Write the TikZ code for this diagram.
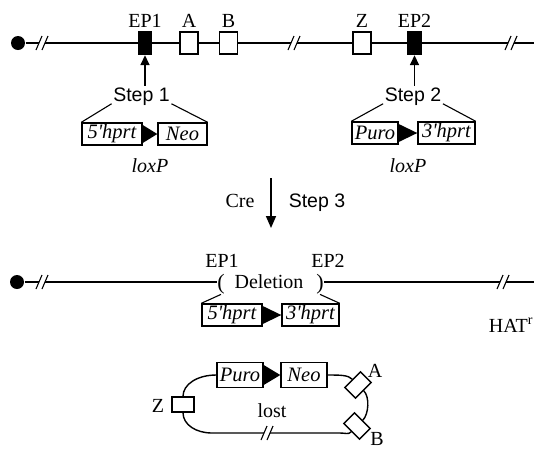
\documentclass[tikz,border=0pt]{standalone}
\usepackage{fontspec}
\setmainfont{Liberation Serif}
\newfontfamily\sansf{Liberation Sans}
\usetikzlibrary{arrows.meta}
\begin{document}
\begin{tikzpicture}[x=1pt,y=-1pt,line width=1.4pt,
  lbl/.style={font=\fontsize{20}{22}\selectfont, inner sep=0pt, anchor=base},
  ilbl/.style={font=\itshape\fontsize{20}{22}\selectfont, inner sep=0pt, anchor=base},
  steplbl/.style={font=\sansf\fontsize{19.5}{22}\selectfont, inner sep=1pt, anchor=base},
  gbox/.style={draw, fill=white, minimum width=#1, minimum height=22pt, inner sep=0pt, font=\itshape\fontsize{20.5}{22}\selectfont},
  gene/.style={draw, fill=white, minimum width=18pt, minimum height=22pt, inner sep=0pt},
  epbox/.style={draw, fill=black, minimum width=12pt, minimum height=23pt, inner sep=0pt},
  lgene/.style={draw, fill=white, minimum width=15pt, minimum height=22pt, inner sep=0pt},
  dotn/.style={circle, fill=black, inner sep=0pt, minimum size=14pt},
  thinl/.style={line width=1.1pt},
  arr/.style={-{Triangle[length=10pt,width=9pt]}, line width=1.6pt},
  arrbig/.style={-{Triangle[length=12pt,width=10pt]}, line width=1.6pt},
  brk/.pic={\fill[white] (-6,7) -- (0,-7) -- (6,-7) -- (0,7) -- cycle;
            \draw[line width=1.1pt] (-6,7) -- (0,-7) (0,7) -- (6,-7);}
]
\fill[white] (0,0) rectangle (534,448);
\useasboundingbox (0,0) rectangle (534,448);

% ---------- top chromosome ----------
\node[dotn] (d1) at (18,43) {};
\coordinate (e1) at (534,43);
\draw (d1) -- (e1);
\pic at (42,43) {brk};
\pic at (294,43) {brk};
\pic at (511,43) {brk};
\node[epbox] (ep1) at (145,43) {};
\node[gene] (ga) at (189,43) {};
\node[gene] (gb) at (228.5,43) {};
\node[gene] (gz) at (362,43) {};
\node[epbox, minimum width=13pt] (ep2) at (414.5,43) {};
\node[lbl] (tep1) at (145,27) {EP1};
\node[lbl] (ta) at (189,27) {A};
\node[lbl] (tb) at (228.5,27) {B};
\node[lbl] (tz) at (362,27) {Z};
\node[lbl] (tep2) at (414.5,27) {EP2};

% ---------- step 1 ----------
\node[steplbl] (s1) at (141.5,101) {Step 1};
\draw[arr] (ep1.south |- s1.north) -- (ep1.south);
\node[gbox=60pt] (h5a) at (112,134) {5\textquotesingle hprt};
\node[gbox=49pt] (neoa) at (182.5,134) {Neo};
\fill ([yshift=9pt]h5a.east) -- ([yshift=-9pt]h5a.east) -- (neoa.west) -- cycle;
\draw[thinl] ([yshift=3pt]s1.south west) -- (h5a.north west);
\draw[thinl] ([yshift=3pt]s1.south east) -- (neoa.north east);
\node[ilbl] (lx1) at (150,172) {loxP};

% ---------- step 2 ----------
\node[steplbl] (s2) at (413,101) {Step 2};
\draw[arr] (ep2.south |- s2.north) -- (ep2.south);
\node[gbox=46pt] (puroa) at (375,133) {Puro};
\node[gbox=57pt] (h3a) at (446.5,133) {3\textquotesingle hprt};
\fill ([yshift=9pt]puroa.east) -- ([yshift=-9pt]puroa.east) -- (h3a.west) -- cycle;
\draw[thinl] ([yshift=3pt]s2.south west) -- (puroa.north west);
\draw[thinl] ([yshift=3pt]s2.south east) -- (h3a.north east);
\node[ilbl] (lx2) at (408,172) {loxP};

% ---------- step 3 ----------
\coordinate (a3s) at (271,178);
\coordinate (a3e) at (271,228);
\draw[arrbig] (a3s) -- (a3e);
\node[lbl] (cre) at (240,207) {Cre};
\node[steplbl] (s3) at (317,207) {Step 3};

% ---------- second chromosome ----------
\node[dotn] (d2) at (17,282) {};
\node[lbl, font=\fontsize{22}{24}\selectfont] (lp) at (221,289) {(};
\node[lbl] (del) at (269,288) {Deletion};
\node[lbl, font=\fontsize{22}{24}\selectfont] (rp) at (320,289) {)};
\coordinate (e2) at (534,282);
\draw (d2) -- (d2 -| lp.west);
\draw (rp.east |- e2) -- (e2);
\pic at (42,282) {brk};
\pic at (503,282) {brk};
\node[lbl] (tep1b) at (222,267) {EP1};
\node[lbl] (tep2b) at (328,267) {EP2};
\node[gbox=60pt] (h5b) at (232,315) {5\textquotesingle hprt};
\node[gbox=57pt] (h3b) at (310.5,315) {3\textquotesingle hprt};
\fill ([yshift=9pt]h5b.east) -- ([yshift=-9pt]h5b.east) -- (h3b.west) -- cycle;
\draw[thinl] (lp.south) -- (h5b.north west);
\draw[thinl] (rp.south) -- (h3b.north east);
\node[lbl] (hat) at (511,332) {HAT\textsuperscript{r}};

% ---------- lost circle ----------
\node[gbox=46pt, minimum height=25pt] (purob) at (240,375) {Puro};
\node[gbox=46pt, minimum height=25pt] (neob) at (304,375) {Neo};
\fill ([yshift=10pt]purob.east) -- ([yshift=-10pt]purob.east) -- (neob.west) -- cycle;
\node[draw, fill=white, minimum width=22pt, minimum height=15pt, inner sep=0pt] (zl) at (183,404.5) {};
\node[lgene, rotate=-45] (al) at (358,385) {};
\node[lgene, rotate=45] (bl) at (357,426) {};
\coordinate (cbl) at (212,433);
\coordinate (cbr) at (340,433);
\draw (purob.west) .. controls +(-19,0) and +(0,-12) .. (zl.north);
\draw (zl.south) .. controls +(0,12) and +(-16,0) .. (cbl) -- (cbr)
      .. controls +(6,0) and +(-3,3) .. (bl.west);
\draw (neob.east) .. controls +(14,0) and +(-4,-4) .. (al.west);
\draw (al.east) .. controls +(6,6) and +(6,-6) .. (bl.east);
\pic at (267,433) {brk};
\node[lbl] (tzl) at (158,412) {Z};
\node[lbl] (tal) at (375,377) {A};
\node[lbl] (tbl) at (377,445) {B};
\node[lbl] (lost) at (272,417) {lost};
\end{tikzpicture}
\end{document}
